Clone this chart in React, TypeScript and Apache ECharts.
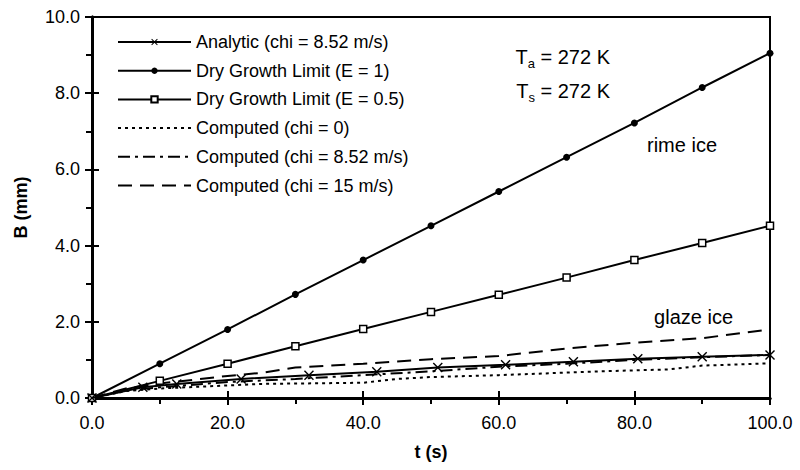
import React, { useEffect, useRef } from "react";
import * as echarts from "echarts";

const analyticT = [0, 7.5, 12.5, 22, 32, 42, 51, 61, 71, 80.5, 90, 100];
const analyticB = [0, 0.28, 0.37, 0.5, 0.6, 0.69, 0.8, 0.87, 0.95, 1.03, 1.08, 1.13];

const gridT = [0, 10, 20, 30, 40, 50, 60, 70, 80, 90, 100];
const dryE1 = [0, 0.9, 1.8, 2.72, 3.62, 4.52, 5.42, 6.32, 7.22, 8.15, 9.05];
const dryE05 = [0, 0.45, 0.9, 1.36, 1.81, 2.26, 2.71, 3.16, 3.62, 4.07, 4.52];

const chi0T = [0, 5, 10, 20, 25, 40, 45, 50, 60, 75, 85, 90, 100];
const chi0B = [0, 0.18, 0.25, 0.33, 0.37, 0.4, 0.5, 0.55, 0.6, 0.7, 0.75, 0.85, 0.91];

const chi852T = [0, 5, 10, 20, 30, 40, 50, 60, 70, 80, 90, 100];
const chi852B = [0, 0.2, 0.28, 0.42, 0.5, 0.6, 0.7, 0.82, 0.9, 1.0, 1.07, 1.13];

const chi15T = [0, 5, 10, 20, 25, 30, 40, 50, 60, 70, 80, 90, 100];
const chi15B = [0, 0.25, 0.38, 0.58, 0.66, 0.8, 0.9, 1.02, 1.1, 1.3, 1.45, 1.57, 1.8];

const legendNames = [
  "Analytic (chi = 8.52 m/s)",
  "Dry Growth Limit (E = 1)",
  "Dry Growth Limit (E = 0.5)",
  "Computed (chi = 0)",
  "Computed (chi = 8.52 m/s)",
  "Computed (chi = 15 m/s)",
];

const FONT = "'Liberation Sans', Arial, sans-serif";
const CROSS = "path://M0,1 L1,0 L5,4 L9,0 L10,1 L6,5 L10,9 L9,10 L5,6 L1,10 L0,9 L4,5 Z";

const zip = (a: number[], b: number[]) => a.map((v, i) => [v, b[i]]);

export default function App() {
  const ref = useRef<HTMLDivElement>(null);
  useEffect(() => {
    if (!ref.current) return;
    const chart = echarts.init(ref.current, undefined, { renderer: "svg" });
    const axisCommon = {
      type: "value" as const,
      axisLine: { show: true, lineStyle: { color: "#000", width: 3 } },
      splitLine: { show: false },
    };
    const hidden = { color: "rgba(0,0,0,0)", borderWidth: 0, opacity: 0 };
    chart.setOption({
      animation: false,
      backgroundColor: "#fff",
      grid: {
        left: 92,
        right: 30,
        top: 17,
        bottom: 72,
        show: true,
        borderColor: "#000",
        borderWidth: 2,
      },
      xAxis: [
        {
          ...axisCommon,
          min: 0,
          max: 100,
          interval: 20,
          name: "t (s)",
          nameLocation: "middle",
          nameGap: 45,
          nameTextStyle: { fontFamily: FONT, fontSize: 18, fontWeight: "bold", color: "#000" },
          axisTick: { show: true, inside: false, length: 7, lineStyle: { color: "#000", width: 2 } },
          minorTick: { show: true, splitNumber: 2, length: 6, lineStyle: { color: "#000", width: 2 } },
          axisLabel: {
            fontFamily: FONT,
            fontSize: 18,
            color: "#000",
            margin: 16,
            formatter: (v: number) => v.toFixed(1),
          },
        },
        {
          ...axisCommon,
          position: "bottom",
          min: 0,
          max: 100,
          interval: 20,
          axisTick: { show: true, inside: true, length: 7, lineStyle: { color: "#000", width: 2 } },
          axisLabel: { show: false },
        },
      ],
      yAxis: [
        {
          ...axisCommon,
          min: 0,
          max: 10,
          interval: 2,
          name: "B (mm)",
          nameLocation: "middle",
          nameGap: 62,
          nameTextStyle: { fontFamily: FONT, fontSize: 18, fontWeight: "bold", color: "#000" },
          axisTick: { show: true, inside: false, length: 7, lineStyle: { color: "#000", width: 2 } },
          minorTick: { show: true, splitNumber: 2, length: 6, lineStyle: { color: "#000", width: 2 } },
          axisLabel: {
            fontFamily: FONT,
            fontSize: 18,
            color: "#000",
            margin: 12,
            formatter: (v: number) => v.toFixed(1),
          },
        },
        {
          ...axisCommon,
          position: "left",
          min: 0,
          max: 10,
          interval: 2,
          axisTick: { show: true, inside: true, length: 7, lineStyle: { color: "#000", width: 2 } },
          axisLabel: { show: false },
        },
      ],
      legend: {
        left: 117,
        top: 33,
        padding: 0,
        orient: "vertical",
        itemWidth: 73,
        itemHeight: 8,
        itemGap: 10.7,
        data: legendNames,
        textStyle: { fontFamily: FONT, fontSize: 18, lineHeight: 18, color: "#000" },
      },
      series: [
        {
          name: legendNames[0],
          type: "line",
          data: zip(analyticT, analyticB),
          symbol: CROSS,
          symbolSize: 10,
          lineStyle: { color: "#000", width: 2 },
          itemStyle: { color: "#000" },
          z: 5,
        },
        {
          name: legendNames[1],
          type: "line",
          data: zip(gridT, dryE1),
          symbol: "circle",
          symbolSize: 7,
          lineStyle: { color: "#000", width: 2 },
          itemStyle: { color: "#000" },
        },
        {
          name: legendNames[2],
          type: "line",
          data: zip(gridT, dryE05),
          symbol: "rect",
          symbolSize: 7,
          lineStyle: { color: "#000", width: 2 },
          itemStyle: { color: "#fff", borderColor: "#000", borderWidth: 1.5 },
        },
        {
          name: legendNames[3],
          type: "line",
          data: zip(chi0T, chi0B),
          showSymbol: false,
          symbol: "none",
          lineStyle: { color: "#000", width: 2, type: [3, 4] },
          itemStyle: hidden,
        },
        {
          name: legendNames[4],
          type: "line",
          data: zip(chi852T, chi852B),
          showSymbol: false,
          symbol: "none",
          lineStyle: { color: "#000", width: 2, type: [12, 5, 3, 5] },
          itemStyle: hidden,
        },
        {
          name: legendNames[5],
          type: "line",
          data: zip(chi15T, chi15B),
          showSymbol: false,
          symbol: "none",
          lineStyle: { color: "#000", width: 2, type: [14, 8] },
          itemStyle: hidden,
        },
      ],
      graphic: [
        {
          type: "text",
          right: 190,
          top: 47,
          style: {
            text: "T{s|a} = 272 K",
            fontFamily: FONT,
            fontSize: 20,
            fill: "#000",
            rich: { s: { fontSize: 13, fontFamily: FONT, padding: [12, 0, 0, 0] } },
          },
        },
        {
          type: "text",
          right: 190,
          top: 81,
          style: {
            text: "T{s|s} = 272 K",
            fontFamily: FONT,
            fontSize: 20,
            fill: "#000",
            rich: { s: { fontSize: 13, fontFamily: FONT, padding: [12, 0, 0, 0] } },
          },
        },
        {
          type: "text",
          right: 83,
          top: 135,
          style: { text: "rime ice", fontFamily: FONT, fontSize: 20, fill: "#000" },
        },
        {
          type: "text",
          right: 67,
          top: 307,
          style: { text: "glaze ice", fontFamily: FONT, fontSize: 20, fill: "#000" },
        },
      ],
    });
    return () => chart.dispose();
  }, []);
  return (
    <div
      ref={ref}
      style={{ width: 800, height: 470, position: "fixed", left: 0, top: 0 }}
    />
  );
}
